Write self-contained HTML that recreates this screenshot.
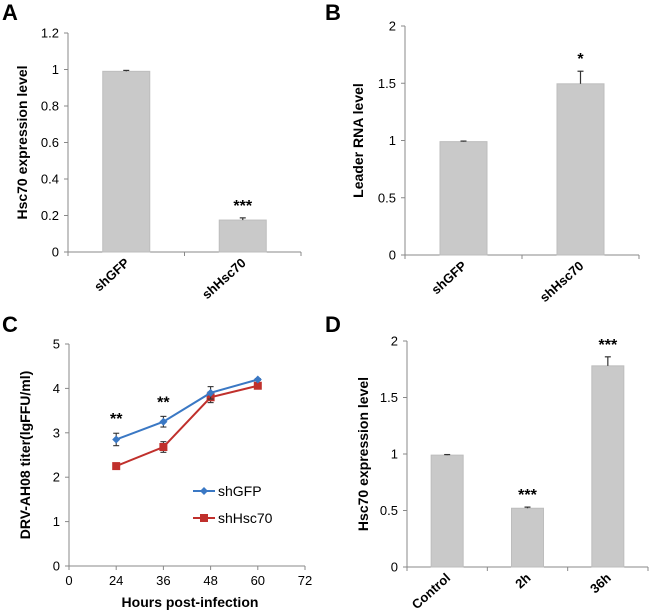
<!DOCTYPE html>
<html><head><meta charset="utf-8"><style>
body{margin:0;background:#fff}
svg{display:block;font-family:"Liberation Sans",Arial,sans-serif}
</style></head><body>
<svg id="s" width="650" height="613" viewBox="0 0 650 613" xmlns="http://www.w3.org/2000/svg"></svg>
<script>
// Panel A data
const aCats=["shGFP","shHsc70"];
const aVals=[0.99,0.175];
const aErrs=[0.005,0.012];
const aStars=["","***"];
const aTicks=[0,0.2,0.4,0.6,0.8,1,1.2];
// Panel B data
const bCats=["shGFP","shHsc70"];
const bVals=[0.99,1.495];
const bErrs=[0.005,0.11];
const bStars=["","*"];
const bTicks=[0,0.5,1,1.5,2];
// Panel D data
const dCats=["Control","2h","36h"];
const dVals=[0.99,0.52,1.78];
const dErrs=[0.005,0.01,0.08];
const dStars=["","***","***"];
const dTicks=[0,0.5,1,1.5,2];
// Panel C data
const cCats=[0,24,36,48,60,72];
const cGFP=[null,2.85,3.25,3.9,4.2,null];
const cGFPErr=[0,0.14,0.12,0.14,0.02,0];
const cHsc=[null,2.25,2.68,3.8,4.06,null];
const cHscErr=[0,0.03,0.12,0.12,0.02,0];
const cStars=["","**","**","","",""];
const cTicks=[0,1,2,3,4,5];

const NS="http://www.w3.org/2000/svg";
const svg=document.getElementById('s');
function el(tag,attrs,parent,text){const e=document.createElementNS(NS,tag);for(const k in attrs)e.setAttribute(k,attrs[k]);if(text!==undefined)e.textContent=text;(parent||svg).appendChild(e);return e;}

function panelLabel(t,x,y){const e=el('text',{x:x,y:y,'font-size':22,'font-weight':'bold',fill:'#000'},svg,t);

}

function yAxis(g,x0,x1,y0,y1,ticks,ymax,title,tx,fmt){
  const ys=v=>y0-(v/ymax)*(y0-y1);
  const ax=el('line',{x1:x0,y1:y0,x2:x0,y2:y1,stroke:'#888','stroke-width':1},g);
  
  
  const bx=el('line',{x1:x0,y1:y0,x2:x1,y2:y0,stroke:'#888','stroke-width':1},g);
  
  
  ticks.forEach(t=>{
    const y=ys(t);
    el('line',{x1:x0-4,y1:y,x2:x0,y2:y,stroke:'#888'},g);
    const l=el('text',{x:x0-9,y:y+4.5,'font-size':13,'text-anchor':'end',fill:'#000'},g,fmt?fmt(t):String(t));
    
    
  });
  const cy=(y0+y1)/2;
  const tt=el('text',{x:tx,y:cy,'font-size':14,'font-weight':'bold','text-anchor':'middle',transform:`rotate(-90 ${tx} ${cy})`,fill:'#000'},g,title);
  
  
  return ys;
}

function barPanel(name,x0,x1,y0,y1,ymax,cats,vals,errs,stars,ticks,title,tx,bw){
  const g=el('g',{},svg);
  
  
  const ys=yAxis(g,x0,x1,y0,y1,ticks,ymax,title,tx);
  const step=(x1-x0)/cats.length;
  for(let i=0;i<=cats.length;i++) el('line',{x1:x0+i*step,y1:y0,x2:x0+i*step,y2:y0+4,stroke:'#888'},g);
  cats.forEach((c,i)=>{
    const cx=x0+step*(i+0.5);
    const y=ys(vals[i]);
    const b=el('rect',{x:cx-bw/2,y:y,width:bw,height:y0-y,fill:'#c9c9c9',stroke:'#bdbdbd','stroke-width':1},g);
    
    
    const ye=ys(vals[i]+errs[i]);
    el('line',{x1:cx,y1:y,x2:cx,y2:ye,stroke:'#333','stroke-width':1.2},g);
    el('line',{x1:cx-3,y1:ye,x2:cx+3,y2:ye,stroke:'#333','stroke-width':1.2},g);
    if(stars[i]){const s=el('text',{x:cx,y:ye-7,'font-size':16,'font-weight':'bold','text-anchor':'middle',fill:'#000'},g,stars[i]);
      
      }
    const lx=cx+4,ly=y0+12;
    const l=el('text',{x:lx,y:ly,'font-size':13,'font-weight':'bold','text-anchor':'end',transform:`rotate(-42 ${lx} ${ly})`,fill:'#000'},g,c);
    
    
  });
}

panelLabel('A',2,20);panelLabel('B',325,20);panelLabel('C',2,332);panelLabel('D',325,332);
barPanel('chart-a',68,301,252,33,1.2,aCats,aVals,aErrs,aStars,aTicks,'Hsc70 expression level',27,47);
barPanel('chart-b',405,639,255,26,2,bCats,bVals,bErrs,bStars,bTicks,'Leader RNA level',363,47);
barPanel('chart-d',407,648,567,341,2,dCats,dVals,dErrs,dStars,dTicks,'Hsc70 expression level',368,32);

// Panel C
(function(){
  const g=el('g',{},svg);
  
  
  const x0=69,x1=305,y0=566,y1=344;
  const ys=yAxis(g,x0,x1,y0,y1,cTicks,5,'DRV-AH08 titer(lgFFU/ml)',30);
  const step=(x1-x0)/(cCats.length-1);
  const xs=i=>x0+i*step;
  cCats.forEach((c,i)=>{
    el('line',{x1:xs(i),y1:y0,x2:xs(i),y2:y0+4,stroke:'#888'},g);
    const l=el('text',{x:xs(i),y:y0+19,'font-size':13,'text-anchor':'middle',fill:'#000'},g,String(c));
    
    
  });
  const xt=el('text',{x:190,y:607,'font-size':14,'font-weight':'bold','text-anchor':'middle',fill:'#000'},g,'Hours post-infection');
  
  
  function series(vals,errs,color,name,marker){
    let pts=[];
    vals.forEach((v,i)=>{if(v!==null)pts.push([xs(i),ys(v)]);});
    const p=el('polyline',{points:pts.map(p=>p.join(',')).join(' '),fill:'none',stroke:color,'stroke-width':2},g);
    
    
    vals.forEach((v,i)=>{if(v===null)return;const x=xs(i),y=ys(v),e1=ys(v+errs[i]),e2=ys(v-errs[i]);
      el('line',{x1:x,y1:e1,x2:x,y2:e2,stroke:'#333','stroke-width':1.1},g);
      el('line',{x1:x-3,y1:e1,x2:x+3,y2:e1,stroke:'#333','stroke-width':1.1},g);
      el('line',{x1:x-3,y1:e2,x2:x+3,y2:e2,stroke:'#333','stroke-width':1.1},g);
      const m=marker(x,y);
      
      
    });
  }
  const diamond=c=>(x,y)=>el('polygon',{points:`${x},${y-4} ${x+4},${y} ${x},${y+4} ${x-4},${y}`,fill:c},g);
  const square=c=>(x,y)=>el('rect',{x:x-4,y:y-4,width:8,height:8,fill:c},g);
  series(cHsc,cHscErr,'#c0302c','shhsc70',square('#c0302c'));
  series(cGFP,cGFPErr,'#3a78c4','shgfp',diamond('#3a78c4'));
  cStars.forEach((s,i)=>{if(!s)return;const t=el('text',{x:xs(i),y:ys(cGFP[i]+cGFPErr[i])-9,'font-size':16,'font-weight':'bold','text-anchor':'middle',fill:'#000'},g,s);
    
    });
  // legend
  const lg=el('g',{},g);
  
  
  el('line',{x1:193,y1:491,x2:215,y2:491,stroke:'#3a78c4','stroke-width':2},lg);
  diamond('#3a78c4')(204,491);
  const t1=el('text',{x:218,y:496,'font-size':14,fill:'#000'},lg,'shGFP');
  
  
  el('line',{x1:193,y1:518,x2:215,y2:518,stroke:'#c0302c','stroke-width':2},lg);
  el('rect',{x:200,y:514,width:8,height:8,fill:'#c0302c'},lg);
  const t2=el('text',{x:218,y:523,'font-size':14,fill:'#000'},lg,'shHsc70');
  
  
})();
</script>
</body></html>
